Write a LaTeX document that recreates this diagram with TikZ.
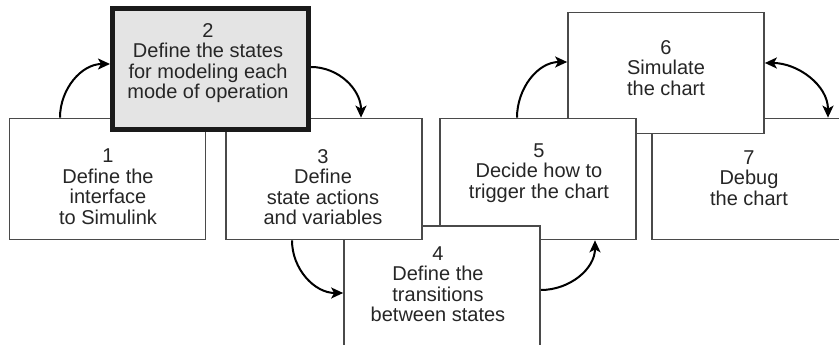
\documentclass[tikz,border=0pt]{standalone}
\usepackage{fontspec}
\setmainfont{Liberation Sans}
\usetikzlibrary{arrows.meta}
\definecolor{boxline}{HTML}{4A4A4A}
\definecolor{boxtwofill}{HTML}{E4E4E4}
\definecolor{boxtwoline}{HTML}{1A1A1A}
\definecolor{txt}{HTML}{262626}
\tikzset{
  stagebox/.style={draw=boxline, line width=1.7pt, fill=white, minimum width=196pt, minimum height=121pt, inner sep=0pt},
  mainbox/.style={stagebox, draw=boxtwoline, line width=5pt, fill=boxtwofill},
  stagetext/.style={align=center, text=txt, inner sep=0pt, font=\fontsize{20}{20.5}\selectfont},
  flow/.style={draw=black, line width=2pt, -{Stealth[length=12pt,width=11pt,inset=3pt]}},
  twoflow/.style={draw=black, line width=2pt, {Stealth[length=12pt,width=11pt,inset=3pt]}-{Stealth[length=12pt,width=11pt,inset=3pt]}}
}
\begin{document}
\begin{tikzpicture}[x=1pt,y=1pt]
\useasboundingbox (0,0) rectangle (839,345);
\clip (0,0) rectangle (839,345);
% boxes, back to front
\node[stagebox] (b7) at (750,166) {};
\node[stagebox] (b6) at (666,272) {};
\node[stagebox] (b5) at (538,166) {};
\node[stagebox] (b4) at (442,58.5) {};
\node[stagebox] (b3) at (324,166) {};
\node[stagebox] (b1) at (107.5,166) {};
\node[mainbox] (b2) at (210.5,276) {};
% texts
\node[stagetext] (t1) at (108,158.5) {1\\Define the\\interface\\to Simulink};
\node[stagetext] (t2) at (208,282) {2\\Define the states\\for modeling each\\mode of operation};
\node[stagetext] (t3) at (323,158) {3\\Define\\state actions\\and variables};
\node[stagetext] (t4) at (438,61) {4\\Define the\\transitions\\between states};
\node[stagetext] (t5) at (539,172) {5\\Decide how to\\trigger the chart};
\node[stagetext] (t6) at (666,277) {6\\Simulate\\the chart};
\node[stagetext] (t7) at (749,167) {7\\Debug\\the chart};
% connectors
\draw[flow] ([xshift=-47.5pt]b1.north) to[out=90,in=180] ([yshift=5pt]b2.west);
\draw[flow] ([yshift=2pt]b2.east) to[out=0,in=90] ([xshift=37pt]b3.north);
\draw[flow] ([xshift=-32pt]b3.south) to[out=-90,in=180] ([yshift=-6.5pt]b4.west);
\draw[flow] ([yshift=-3.5pt]b4.east) to[out=0,in=-90] ([xshift=57pt]b5.south);
\draw[flow] ([xshift=-21pt]b5.north) to[out=90,in=180] ([yshift=11pt]b6.west);
\draw[twoflow] ([yshift=10pt]b6.east) to[out=0,in=90] ([xshift=78pt]b7.north);
\end{tikzpicture}
\end{document}
